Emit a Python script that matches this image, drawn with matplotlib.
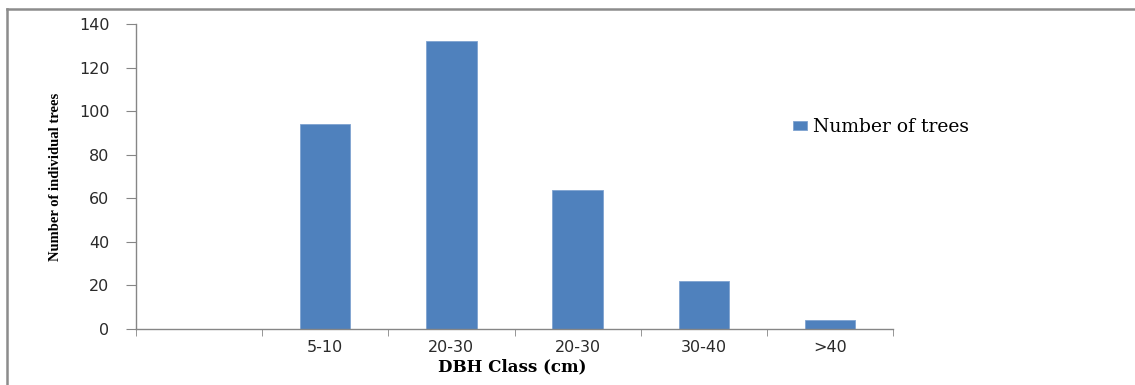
import numpy as np
import matplotlib.pyplot as plt
from matplotlib.lines import Line2D

# DBH classes (first slot is an empty category)
dbh_class = ['', '5-10', '20-30', '20-30', '30-40', '>40']
n_trees = [np.nan, 94, 132, 64, 22, 4]

bar_color = '#4F81BD'
axis_gray = '#868686'

fig = plt.figure(figsize=(11.35, 3.85), dpi=100)
ax = fig.add_axes([136/1135, 1 - 329/385, (893 - 136)/1135, (329 - 24)/385])

x = np.arange(len(dbh_class))
vals = np.array(n_trees, dtype=float)
has_val = ~np.isnan(vals)
ax.bar(x[has_val], vals[has_val], width=0.4, color=bar_color,
       edgecolor='#7FA3D0', linewidth=0.6, label='Number of trees', zorder=2)

ax.set_xlim(-0.5, len(dbh_class) - 0.5)
ax.set_ylim(0, 140)
ax.set_yticks(np.arange(0, 141, 20))

# category labels at centres, tick marks on the boundaries
ax.set_xticks(x)
ax.set_xticklabels(dbh_class)
ax.set_xticks(np.arange(-0.5, len(dbh_class)), minor=True)
ax.tick_params(axis='x', which='major', length=0, pad=8)
ax.tick_params(axis='x', which='minor', length=5, color=axis_gray, direction='out')
ax.tick_params(axis='y', length=7, color=axis_gray, direction='out', pad=12)
for lab in ax.get_xticklabels() + ax.get_yticklabels():
    lab.set_fontfamily('DejaVu Sans')
    lab.set_fontsize(11.5)
    lab.set_color('#2a2a2a')

for side in ['top', 'right']:
    ax.spines[side].set_visible(False)
for side in ['left', 'bottom']:
    ax.spines[side].set_color(axis_gray)
    ax.spines[side].set_linewidth(1)

ax.set_ylabel('Number of individual trees', family='Liberation Serif',
              fontweight='bold', fontsize=10.5)
ax.yaxis.set_label_coords(-0.098, 0.5)
ax.set_xlabel('DBH Class (cm)', family='DejaVu Serif', fontweight='bold',
              fontsize=12)
ax.xaxis.set_label_coords(0.497, -0.095)

leg = fig.legend(loc='center left', bbox_to_anchor=(0.684, 0.67), frameon=False,
                 prop={'family': 'DejaVu Serif', 'size': 13.5},
                 handlelength=0.75, handleheight=0.35, handletextpad=0.3)

# outer chart frame (left and top edges)
fig.add_artist(Line2D([7/1135, 7/1135], [0, 1 - 9/385], color='#8C8C8C', lw=1.8))
fig.add_artist(Line2D([7/1135, 1], [1 - 9/385, 1 - 9/385], color='#8C8C8C', lw=1.8))

fig.savefig('out.png', dpi=100)
